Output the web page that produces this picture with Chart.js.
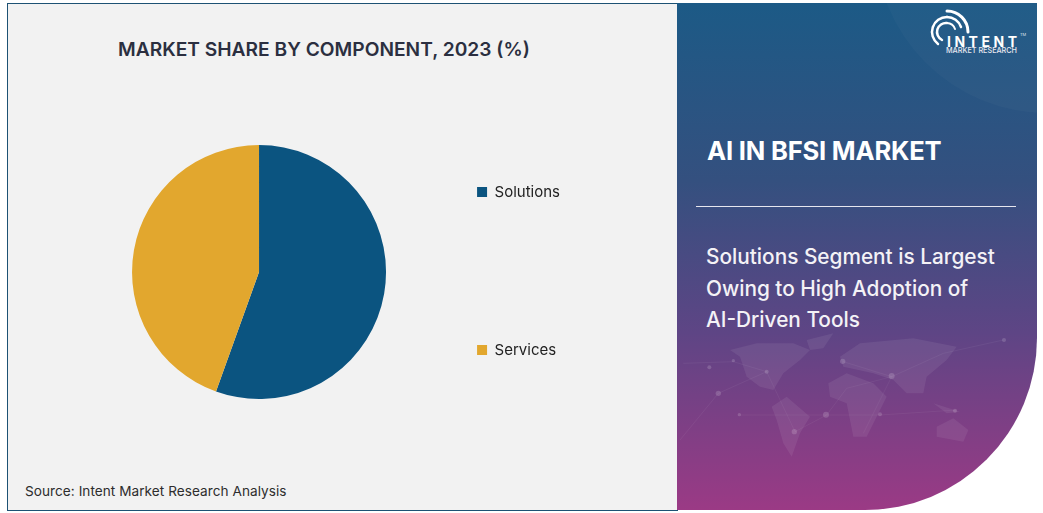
<!DOCTYPE html>
<html>
<head>
<meta charset="utf-8">
<script src="https://cdn.jsdelivr.net/npm/chart.js@4"></script>
<style>
    html, body { margin: 0; padding: 0; background: #fff; }
    body { position: relative; width: 1043px; height: 513px; overflow: hidden; font-family: Inter, sans-serif; }
    .left-panel { position: absolute; left: 7px; top: 3px; width: 670px; height: 506px; background: #f2f2f2; border: 1px solid #1d5274; border-right: none; }
    .right-panel { position: absolute; left: 677px; top: 3px; width: 360px; height: 507px; overflow: hidden; border-bottom-right-radius: 172px; background: linear-gradient(180deg, #1c5a86 0%, #34507f 35%, #5e4585 65%, #9b3a85 100%); }
    .swoosh { position: absolute; left: 198px; top: -234px; width: 344px; height: 344px; border-radius: 50%; background: rgba(255,255,255,0.025); }
    .map { position: absolute; left: 0; top: 317px; }
    .logo { position: absolute; left: 0; top: 0; }
    .headline { position: absolute; left: 30px; top: 132px; color: #fff; font-size: 25.6px; font-weight: 700; line-height: 32px; letter-spacing: -0.2px; white-space: nowrap; }
    .rule { position: absolute; left: 19px; top: 203px; width: 320px; height: 1px; background: #e6e6ee; }
    .note { position: absolute; left: 29px; top: 238px; color: #f4f2f6; font-size: 20.8px; font-weight: 500; line-height: 31.5px; white-space: nowrap; }
    .title { position: absolute; left: 0; top: 37px; width: 648px; text-align: center; color: #2b2f40; font-size: 19.2px; font-weight: 600; line-height: 24px; white-space: nowrap; }
    .source { position: absolute; left: 25px; top: 483px; color: #2d2d2d; font-size: 13.6px; letter-spacing: 0.05px; white-space: nowrap; }
    canvas { position: absolute; left: 0; top: 0; }
</style>
</head>
<body>
<div class="left-panel"></div>
<div class="right-panel">
    <div class="swoosh"></div>
    <svg class="map" width="360" height="190" viewBox="51 0 1080 570">
        <g fill="rgba(255,255,255,0.07)">
            <path d="M210 90 L290 70 L400 70 L450 90 L420 120 L370 160 L340 210 L300 200 L260 170 L240 110 Z"/>
            <path d="M440 60 L520 40 L490 85 L450 90 Z"/>
            <path d="M335 260 L380 230 L450 290 L420 340 L395 410 L370 370 L350 300 Z"/>
            <path d="M505 190 L560 160 L640 190 L680 230 L650 290 L620 350 L580 350 L560 250 L510 230 Z"/>
            <path d="M540 110 L600 70 L760 55 L890 80 L860 120 L800 170 L790 220 L740 220 L700 180 L640 160 L550 140 Z"/>
            <path d="M830 320 L880 295 L925 330 L910 365 L830 350 Z"/>
            <path d="M820 250 L900 275 L860 280 Z"/>
        </g>
        <g stroke="rgba(255,255,255,0.08)" stroke-width="2" fill="none">
            <path d="M70 130 L220 125 L320 155 L175 220 L60 360"/>
            <path d="M240 285 L500 285 L660 285 L890 270"/>
            <path d="M550 125 L695 170 L850 100 L1030 60"/>
            <path d="M320 155 L405 335 L500 285 L560 205 L695 170 L610 340"/>
        </g>
        <g fill="rgba(255,255,255,0.16)">
            <circle cx="148" cy="142" r="6"/>
            <circle cx="220" cy="122" r="5"/>
            <circle cx="175" cy="220" r="8"/>
            <circle cx="320" cy="155" r="6"/>
            <circle cx="238" cy="284" r="5"/>
            <circle cx="498" cy="284" r="9"/>
            <circle cx="403" cy="335" r="8"/>
            <circle cx="548" cy="124" r="8"/>
            <circle cx="695" cy="168" r="9"/>
            <circle cx="660" cy="283" r="6"/>
            <circle cx="885" cy="272" r="6"/>
            <circle cx="1032" cy="60" r="6"/>
        </g>
    </svg>
    <svg class="logo" width="360" height="60" fill="none" stroke="#fff" stroke-linecap="round">
        <path d="M270 8 A21 21 0 0 1 291 29" stroke-width="3"/>
        <path d="M270 14 A15 15 0 0 1 284 24" stroke-width="2.5"/>
        <path d="M270 14 A15 15 0 0 0 261 41" stroke-width="2.5"/>
        <path d="M270 20 A9 9 0 0 0 265 37" stroke-width="2.5"/>
        <path d="M270 20 A9 9 0 0 1 278 26" stroke-width="2"/>
        <text x="270" y="44" fill="#fff" stroke="none" font-family="Inter" font-size="14" font-weight="700" textLength="70">INTENT</text>
        <text x="343" y="33" fill="#dfe4ee" stroke="none" font-family="Inter" font-size="4">TM</text>
        <text x="269" y="50" fill="#e8e8f0" stroke="none" font-family="Inter" font-size="8" font-weight="500" textLength="71" lengthAdjust="spacingAndGlyphs">MARKET RESEARCH</text>
    </svg>
    <div class="headline">AI IN BFSI MARKET</div>
    <div class="rule"></div>
    <div class="note">Solutions Segment is Largest<br>Owing to High Adoption of<br>AI-Driven Tools</div>
</div>
<div class="title">MARKET SHARE BY COMPONENT, 2023 (%)</div>
<div class="source">Source: Intent Market Research Analysis</div>
<canvas id="share-chart" width="658" height="513"></canvas>
<script>
    const categories = ['Solutions', 'Services'];
    const shareValues = [55.5, 44.5];
    const sliceColors = ['#0b5480', '#e2a72e'];

    // legend sits closer to the pie than the layout allows with this much item padding
    const moveLegend = {
        id: 'moveLegend',
        afterLayout(chart) {
            chart.legend.left -= 88;
            chart.legend.right -= 88;
            chart.legend.top -= 1;
            chart.legend.bottom -= 1;
        }
    };

    new Chart(document.getElementById('share-chart'), {
        type: 'pie',
        data: {
            labels: categories,
            datasets: [{
                data: shareValues,
                backgroundColor: sliceColors,
                borderWidth: 0,
                radius: 127
            }]
        },
        options: {
            responsive: false,
            animation: false,
            // symmetric about y=272 and tall enough that the legend stays in one column
            layout: { padding: { top: 31, bottom: 0, left: 96, right: 0 } },
            plugins: {
                tooltip: { enabled: false },
                title: { display: false },
                legend: {
                    position: 'right',
                    labels: {
                        boxWidth: 10,
                        boxHeight: 10,
                        padding: 143,
                        color: '#222',
                        font: { family: 'Inter', size: 15 }
                    }
                }
            }
        },
        plugins: [moveLegend]
    });
</script>
</body>
</html>
